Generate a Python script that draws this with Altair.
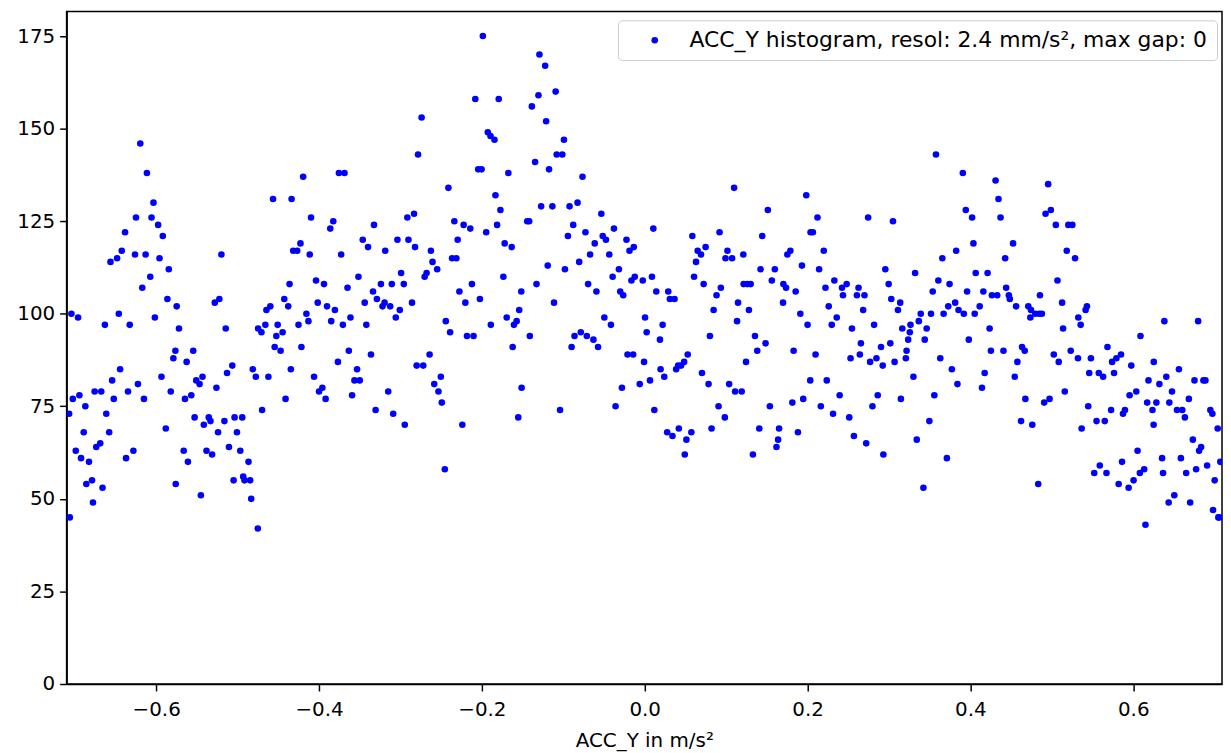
import altair as alt
import pandas as pd

# ACC_Y bins (m/s^2) and counts, left to right in strips
s1_x = [-0.6195,-0.6114,-0.6033,-0.6248,-0.6057,-0.5976,-0.6382,-0.5919,-0.6423,-0.6480,
        -0.6561,-0.6260,-0.6130,-0.5959,-0.5845,-0.6073,-0.6171,-0.5862,-0.7041,-0.6459,
        -0.5748,-0.6959,-0.6630,-0.6325,-0.6016,-0.5764,-0.5789,-0.6443,-0.6541,-0.5935,
        -0.6224,-0.6943,-0.7024,-0.6756,-0.6675,-0.6346,-0.6521,-0.6150,-0.5821,-0.6870,
        -0.7069,-0.6613,-0.6890,-0.6577,-0.5882,-0.6687,-0.6736,-0.6988,-0.6923,-0.6825,
        -0.6370,-0.6280,-0.6788,-0.6858,-0.6659,-0.5760,-0.6776,-0.7061]
s1_y = [146,138,130,126,126,124,122,121,117,115,
        114,116,116,115,112,110,107,104,100,100,
        102,99,97,97,99,90,88,85,82,83,
        81,78,77,79,79,79,77,77,79,75,
        73,73,68,68,69,65,64,63,61,60,
        61,63,55,54,53,54,49,45]

s2_x = [-0.4565,-0.4337,-0.5199,-0.4317,-0.4362,-0.4427,-0.4378,-0.5280,-0.5224,-0.4598,
        -0.4646,-0.5146,-0.4748,-0.4707,-0.4659,-0.4508,-0.4447,-0.4524,-0.5720,-0.5545,
        -0.4545,-0.4472,-0.5626,-0.5065,-0.5130,-0.4813,-0.4776,-0.4622,-0.4346,-0.5431,
        -0.5508,-0.5467,-0.5260,-0.5569,-0.5646,-0.4411,-0.4699,-0.5528,-0.5354,-0.5415,
        -0.5333,-0.5162,-0.5037,-0.4943,-0.5240,-0.5008,-0.5106,-0.4967,-0.4866,-0.5662,
        -0.5610,-0.5382,-0.5313,-0.5451,-0.5049,-0.4931,-0.4915,-0.4846,-0.4833,-0.4752]
s2_y = [131,131,116,117,108,104,102,103,104,102,
        101,96,96,95,97,97,95,94,96,90,
        91,90,87,86,84,85,83,83,85,83,
        82,81,80,78,77,77,74,72,72,70,
        71,71,72,72,68,68,64,63,60,63,
        60,63,62,51,55,56,55,55,50,42]

s3_x = [-0.4195,-0.3756,-0.3687,-0.4098,-0.3825,-0.3862,-0.3325,-0.4228,-0.4268,-0.4114,
        -0.3728,-0.3463,-0.3398,-0.3187,-0.3037,-0.4037,-0.3939,-0.3650,-0.3516,-0.2992,
        -0.2959,-0.3106,-0.3240,-0.4016,-0.3902,-0.3805,-0.3337,-0.3289,-0.3220,-0.3195,
        -0.3126,-0.3008,-0.3057,-0.3439,-0.4155,-0.4130,-0.4252,-0.3614,-0.3419,-0.3850,
        -0.3707,-0.4216,-0.3634,-0.3768,-0.3362,-0.4061,-0.3533,-0.4000,-0.3959,-0.3919,
        -0.3565,-0.3500,-0.3594,-0.3150,-0.3305,-0.3089,-0.2947]
s3_y = [137,138,138,126,125,123,124,119,117,116,
        116,120,118,117,120,109,108,107,110,111,
        108,108,108,103,102,101,106,104,102,103,
        102,101,99,103,100,98,97,99,97,98,
        97,91,90,87,89,83,85,79,80,77,
        82,82,78,79,74,73,70]

s4_x = [-0.1988,-0.2081,-0.1793,-0.2740,-0.1927,-0.1894,-0.1845,-0.2784,-0.2045,-0.2004,
        -0.1675,-0.2411,-0.1833,-0.2833,-0.2915,-0.1772,-0.2338,-0.2224,-0.2142,-0.1813,
        -0.1947,-0.2902,-0.2821,-0.2297,-0.1720,-0.1634,-0.2626,-0.2606,-0.2549,-0.2366,
        -0.2313,-0.2679,-0.2703,-0.1736,-0.2122,-0.2276,-0.2203,-0.2024,-0.1516,-0.2858,
        -0.1541,-0.2443,-0.2390,-0.1890,-0.1695,-0.1606,-0.1573,-0.2183,-0.2102,-0.1622,
        -0.2642,-0.2801,-0.2720,-0.2504,-0.2585,-0.2533,-0.2492,-0.1512,-0.2240,-0.1553,
        -0.2455]
s4_y = [175,158,158,153,149,148,147,143,139,139,
        138,134,132,127,126,128,125,124,123,124,
        122,120,118,120,119,118,117,114,112,115,
        115,111,110,110,108,106,103,104,106,103,
        101,98,95,97,99,97,98,94,94,91,
        89,86,86,83,81,79,76,80,70,72,
        58]

s5_x = [-0.1293,-0.1223,-0.1094,-0.1305,-0.1386,-0.1211,-0.0992,-0.1081,-0.1012,-0.1346,
        -0.1175,-0.0764,-0.1443,-0.1419,-0.1272,-0.1134,-0.0923,-0.0825,-0.0533,-0.0878,
        -0.0943,-0.0728,-0.0614,-0.0516,-0.0476,-0.0378,-0.0671,-0.0435,-0.0224,-0.0187,
        -0.0134,-0.1191,-0.0980,-0.0805,-0.0317,-0.0394,-0.0163,-0.0122,-0.1329,-0.0695,
        -0.0593,-0.0301,-0.0264,-0.1114,-0.0496,-0.0415,-0.1411,-0.0862,-0.0785,-0.0711,
        -0.0630,-0.0898,-0.0573,-0.0211,-0.0142,-0.0280,-0.0358,-0.1040]
s5_y = [170,167,160,159,156,152,147,143,143,141,
        139,137,125,125,129,129,129,130,127,124,
        121,122,119,121,120,123,116,116,120,117,
        118,113,112,114,112,110,109,110,108,108,
        106,106,105,103,99,97,94,94,95,94,
        93,91,91,89,89,80,75,74]

s6_x = [0.1098,0.0106,0.0585,0.0919,0.0650,0.0691,0.0748,0.1016,0.0992,0.1073,
        0.1211,0.0630,-0.0024,0.0089,0.0606,0.0724,0.0142,0.0289,0.0309,0.0366,
        0.0935,0.0882,0.1215,0.1260,0.1146,0.0846,0.1280,0.0004,0.0024,0.0220,
        0.0187,0.1134,0.0801,-0.0008,0.0528,0.0484,0.0447,0.0411,0.0386,0.1244,
        0.0195,0.0240,0.0703,0.0784,-0.0061,0.0065,0.1037,0.1110,0.1191,0.0118,
        0.0907,0.0984,0.0276,0.0341,0.0419,0.0573,0.0512,0.0821,0.0492]
s6_y = [134,123,121,122,117,116,118,117,115,115,
        116,114,109,110,110,108,106,106,104,104,
        107,105,108,108,103,101,101,99,95,97,
        93,98,94,87,89,87,86,86,85,87,
        85,83,84,81,81,82,81,79,79,74,
        75,72,68,67,69,68,66,69,62]

s7_x = [0.1984,0.1512,0.2122,0.1443,0.2037,0.2065,0.1752,0.1789,0.2199,0.1931,
        0.1423,0.1598,0.2142,0.1301,0.1561,0.1703,0.1736,0.1854,0.2220,0.2329,
        0.2423,0.2435,0.2480,0.2606,0.2626,0.1699,0.2260,0.2683,0.1911,0.2000,
        0.2358,0.2297,0.2545,0.1354,0.1382,0.1484,0.1829,0.2098,0.2655,0.2642,
        0.2528,0.2033,0.2236,0.2394,0.1537,0.1813,0.1947,0.2163,0.2313,0.2512,
        0.1407,0.1650,0.1882,0.1638,0.1618,0.2569,0.1329]
s7_y = [132,128,126,121,122,122,116,117,117,113,
        112,112,112,108,109,108,107,106,107,109,
        107,105,108,105,107,103,102,101,100,97,
        99,97,96,94,90,92,90,89,92,89,
        88,82,82,78,75,76,77,75,73,72,
        69,69,68,66,64,67,62]

s8_x = [0.3577,0.3907,0.2744,0.3049,0.3943,0.4021,0.4037,0.3825,0.3655,0.2955,
        0.3321,0.4065,0.3606,0.3744,0.2996,0.3537,0.3959,0.3028,0.3138,0.3110,
        0.2699,0.3728,0.3813,0.3854,0.3919,0.4053,0.3671,0.3390,0.3366,0.3516,
        0.3463,0.3163,0.2817,0.3264,0.3256,0.3236,0.3216,0.3207,0.3439,0.3980,
        0.3016,0.2902,0.2846,0.2768,0.2923,0.3069,0.3630,0.3772,0.3300,0.3841,
        0.2862,0.2797,0.3557,0.3146,0.3496,0.2720,0.3341,0.2931,0.3711,0.3423]
s8_y = [143,138,126,125,128,126,119,117,115,112,
        111,111,109,108,108,106,106,104,103,101,
        105,102,103,101,100,100,100,100,98,100,
        96,96,97,97,95,93,90,88,93,93,
        92,91,88,87,86,87,88,85,83,81,
        78,75,78,77,71,65,66,62,61,53]

s9_x = [0.4309,0.4955,0.4345,0.4370,0.4923,0.4988,0.5049,0.5203,0.5252,0.4524,
        0.4427,0.5183,0.5285,0.4211,0.5069,0.4159,0.4264,0.4329,0.4439,0.4472,
        0.4484,0.4561,0.4854,0.4711,0.4744,0.4797,0.4846,0.4736,0.4878,0.5126,
        0.5431,0.5415,0.5325,0.5354,0.4114,0.5138,0.4236,0.4252,0.4406,0.4634,
        0.4667,0.4577,0.5024,0.5085,0.5232,0.5321,0.5480,0.5459,0.4175,0.4142,
        0.4545,0.5159,0.4675,0.5447,0.4906,0.4972,0.4622,0.4760,0.5366,0.4833]
s9_y = [136,135,131,126,127,128,124,124,124,119,
        115,117,115,111,109,106,105,105,107,105,
        104,102,105,102,101,100,100,99,100,103,
        102,101,99,97,102,96,96,90,90,91,
        90,87,89,87,90,88,88,84,84,80,
        83,79,77,75,76,77,71,70,69,54]

s10_x = [0.6382,0.6797,0.6089,0.5683,0.5850,0.5793,0.5740,0.5976,0.6252,0.6561,
         0.5577,0.5630,0.5764,0.6187,0.6321,0.6406,0.6752,0.6862,0.6886,0.6476,
         0.5955,0.6037,0.6171,0.6284,0.6443,0.5898,0.5874,0.6236,0.6537,0.6602,
         0.6634,0.6683,0.6947,0.6972,0.5549,0.5650,0.5728,0.6250,0.7037,0.6732,
         0.6053,0.6833,0.6809,0.6354,0.6585,0.5862,0.5589,0.5521,0.5671,0.6134,
         0.6081,0.6004,0.5943,0.5821,0.6366,0.6650,0.6772,0.6907,0.7069,0.7000,
         0.6504,0.6435,0.6699,0.6980,0.7045,0.7057,0.6150]
s10_y = [98,98,94,91,89,88,87,86,87,85,
         84,83,84,82,81,83,82,82,82,79,
         78,79,76,76,76,74,73,74,74,74,
         72,77,74,73,71,71,74,70,69,66,
         63,64,63,61,61,60,59,57,57,58,
         57,55,53,54,57,57,58,59,60,55,
         51,49,49,47,45,45,43]

acc_y = s1_x + s2_x + s3_x + s4_x + s5_x + s6_x + s7_x + s8_x + s9_x + s10_x
counts = s1_y + s2_y + s3_y + s4_y + s5_y + s6_y + s7_y + s8_y + s9_y + s10_y

series_label = "ACC_Y histogram, resol: 2.4 mm/s², max gap: 0"
x_ticks = [-0.6, -0.4, -0.2, 0.0, 0.2, 0.4, 0.6]
y_ticks = [0, 25, 50, 75, 100, 125, 150, 175]

df = pd.DataFrame({"acc": acc_y, "count": counts, "series": series_label})

FONT = "DejaVu Sans"

chart = alt.Chart(df).mark_circle(size=44, opacity=1, clip=True).encode(
    x=alt.X("acc:Q",
            scale=alt.Scale(domain=[-0.71, 0.709], nice=False, zero=False),
            axis=alt.Axis(values=x_ticks,
                          labelExpr="replace(format(datum.value, '.1f'), '-', '\u2212')",
                          title="ACC_Y in m/s²", grid=False,
                          tickSize=7, labelPadding=9, labelFontSize=20,
                          titleFontSize=20, titleFontWeight="normal",
                          titleY=63, titleBaseline="alphabetic")),
    y=alt.Y("count:Q",
            scale=alt.Scale(domain=[0, 181.65], nice=False),
            axis=alt.Axis(values=y_ticks, title=None, grid=False,
                          tickSize=7, labelPadding=5, labelFontSize=20)),
    color=alt.Color("series:N",
                    scale=alt.Scale(range=["#0000ff"]),
                    legend=alt.Legend(title=None, orient="none",
                                      legendX=555, legendY=9,
                                      padding=9, cornerRadius=4,
                                      strokeColor="#cccccc",
                                      fillColor="rgba(255,255,255,0.8)",
                                      symbolType="circle", symbolSize=44,
                                      symbolOpacity=1, symbolStrokeWidth=0,
                                      symbolOffset=17, labelOffset=24,
                                      labelFontSize=22, labelFont=FONT,
                                      labelColor="black", labelLimit=0)),
).properties(
    width=1163, height=677,
    padding={"left": 59, "top": 1, "right": 1, "bottom": 67},
    autosize=alt.AutoSizeParams(type="none"),
).configure_view(
    stroke="black", strokeWidth=1.5
).configure_axis(
    domainColor="black", domainWidth=1.5,
    tickColor="black", tickWidth=1.5,
    labelColor="black", titleColor="black",
    labelFont=FONT, titleFont=FONT,
)

chart.save("out.html", embed_options={"renderer": "svg", "actions": False})
